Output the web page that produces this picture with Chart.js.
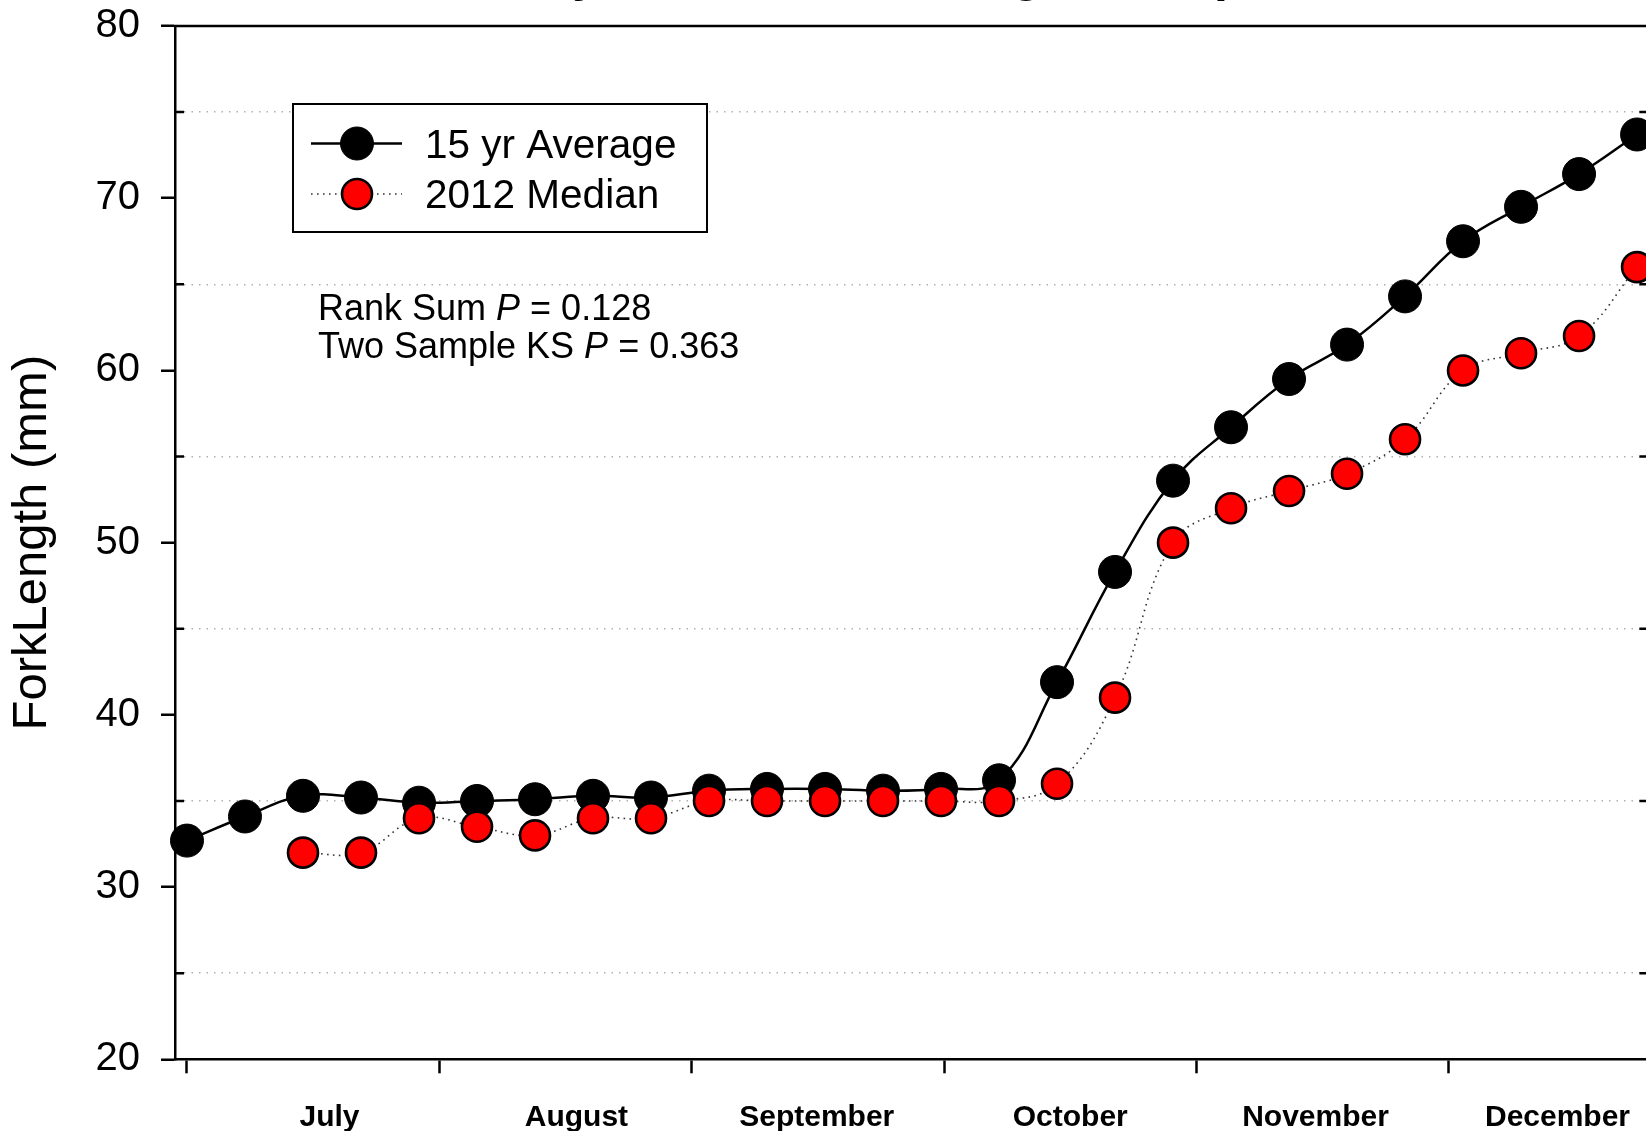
<!DOCTYPE html>
<html>
<head>
<meta charset="utf-8">
<script src="https://cdn.jsdelivr.net/npm/chart.js@4/dist/chart.umd.min.js"></script>
<style>
  html, body { margin: 0; padding: 0; background: #fff; overflow: hidden; width: 1646px; height: 1131px; }
  #wrap { position: absolute; left: 0; top: 0; width: 1666px; height: 1131px; }
  canvas { display: block; }
</style>
</head>
<body>
<div id="wrap"><canvas id="c" width="1666" height="1131"></canvas></div>
<script>
// ---- data ----
const chartTitle = 'Weekly Median Fork Length Comparison';
const yAxisTitle = 'ForkLength (mm)';
const seriesNames = ['15 yr Average', '2012 Median'];

// sampling days, counted from 1 July
const sampleDays = [0, 7, 14, 21, 28, 35, 42, 49, 56, 63, 70, 77, 84,
                    91, 98, 105, 112, 119, 126, 133, 140, 147, 154, 161, 168, 175];

const avg15yr = [32.7, 34.1, 35.3, 35.2, 34.9, 35.0, 35.1, 35.3, 35.2, 35.6, 35.7, 35.7, 35.6,
                 35.7, 36.2, 41.9, 48.3, 53.6, 56.7, 59.5, 61.5, 64.3, 67.5, 69.5, 71.4, 73.7];

const median2012 = [null, null, 32, 32, 34, 33.5, 33, 34, 34, 35, 35, 35, 35,
                    35, 35, 36, 41, 50, 52, 53, 54, 56, 60, 61, 62, 66];

const monthNames = ['July', 'August', 'September', 'October', 'November', 'December'];
const monthStartDays = [0, 30.5, 60.9, 91.4, 121.8, 152.3];
const monthLabelDays = [17.2, 47.0, 76.0, 106.6, 136.2, 165.4];

const statLines = [
  ['Rank Sum ', 'P', ' = 0.128'],
  ['Two Sample KS ', 'P', ' = 0.363']
];

// ---- drawing ----
const FONT = '"Liberation Sans", Arial, Helvetica, sans-serif';
Chart.defaults.font.family = FONT;
Chart.defaults.color = '#000';

const isMajor = v => Math.abs(v % 10) < 1e-9;

// scales keep to the space given by the layout padding
const noScalePadding = s => {
  s.paddingTop = 0; s.paddingBottom = 0; s.paddingLeft = 0; s.paddingRight = 0;
};

// frame, inward minor ticks, legend, statistics text and title
const decorations = {
  id: 'decorations',
  afterDraw(chart) {
    const { ctx, chartArea: a, scales } = chart;
    const ys = scales.y;
    ctx.save();

    // top and right frame lines
    ctx.strokeStyle = '#000';
    ctx.lineWidth = 2.5;
    ctx.beginPath();
    ctx.moveTo(a.left - 1, a.top);
    ctx.lineTo(a.right, a.top);
    ctx.lineTo(a.right, a.bottom);
    ctx.stroke();

    // minor ticks pointing into the plot, both sides
    ys.ticks.forEach(t => {
      const py = ys.getPixelForValue(t.value);
      ctx.beginPath();
      if (!isMajor(t.value)) {
        ctx.moveTo(a.left, py); ctx.lineTo(a.left + 9, py);
        ctx.moveTo(a.right - 9, py); ctx.lineTo(a.right, py);
      } else {
        ctx.moveTo(a.right, py); ctx.lineTo(a.right + 14, py);
      }
      ctx.stroke();
    });

    // legend
    const box = { l: 293, t: 104, r: 707, b: 232 };
    ctx.fillStyle = '#fff';
    ctx.fillRect(box.l, box.t, box.r - box.l, box.b - box.t);
    ctx.lineWidth = 2;
    ctx.strokeStyle = '#000';
    ctx.strokeRect(box.l, box.t, box.r - box.l, box.b - box.t);
    const rowY = [143.5, 194];
    chart.data.datasets.forEach((ds, i) => {
      const y = rowY[i];
      ctx.save();
      ctx.strokeStyle = ds.borderColor;
      ctx.lineWidth = ds.borderWidth;
      ctx.setLineDash(ds.borderDash || []);
      ctx.beginPath();
      ctx.moveTo(311, y); ctx.lineTo(402, y);
      ctx.stroke();
      ctx.restore();
      ctx.beginPath();
      ctx.arc(357, y, ds.pointRadius, 0, Math.PI * 2);
      ctx.fillStyle = ds.pointBackgroundColor;
      ctx.fill();
      ctx.lineWidth = ds.pointBorderWidth;
      ctx.strokeStyle = ds.pointBorderColor;
      ctx.stroke();
      ctx.fillStyle = '#000';
      ctx.font = '40.5px ' + FONT;
      ctx.textAlign = 'left';
      ctx.textBaseline = 'alphabetic';
      ctx.fillText(ds.label, 425, y + 14);
    });

    // statistics
    const statBase = [320, 358];
    statLines.forEach((parts, i) => {
      let x = 318;
      parts.forEach((p, j) => {
        ctx.font = (j === 1 ? 'italic ' : '') + '36px ' + FONT;
        ctx.fillStyle = '#000';
        ctx.textAlign = 'left';
        ctx.textBaseline = 'alphabetic';
        ctx.fillText(p, x, statBase[i]);
        x += ctx.measureText(p).width;
      });
    });

    // title
    ctx.font = 'bold 50px ' + FONT;
    ctx.textAlign = 'center';
    ctx.textBaseline = 'alphabetic';
    ctx.fillStyle = '#000';
    ctx.fillText(chartTitle, (a.left + a.right) / 2, -9);

    ctx.restore();
  }
};

const toPoints = vals => sampleDays.map((d, i) => ({ x: d, y: vals[i] }));

new Chart(document.getElementById('c').getContext('2d'), {
  type: 'line',
  data: {
    datasets: [
      {
        label: seriesNames[0],
        data: toPoints(avg15yr),
        borderColor: '#000',
        borderWidth: 2.5,
        tension: 0.4,
        pointRadius: 16.5,
        pointBackgroundColor: '#000',
        pointBorderColor: '#000',
        pointBorderWidth: 1,
        order: 2,
        clip: false
      },
      {
        label: seriesNames[1],
        data: toPoints(median2012),
        borderColor: '#333',
        borderWidth: 1.6,
        borderDash: [1.6, 4.4],
        tension: 0.4,
        pointRadius: 15,
        pointBackgroundColor: '#ff0000',
        pointBorderColor: '#000',
        pointBorderWidth: 2.6,
        order: 1,
        clip: false
      }
    ]
  },
  options: {
    responsive: false,
    animation: false,
    events: [],
    layout: { padding: { top: 26, left: 0, right: 10, bottom: 0 } },
    plugins: {
      legend: { display: false },
      tooltip: { enabled: false },
      title: { display: false }
    },
    scales: {
      x: {
        type: 'linear',
        position: 'bottom',
        min: -1.447,
        max: 176.37,
        afterBuildTicks: s => {
          s.ticks = [...monthStartDays, ...monthLabelDays]
            .sort((p, q) => p - q)
            .map(v => ({ value: v }));
        },
        afterFit: s => { s.height = 71.7; noScalePadding(s); },
        ticks: {
          autoSkip: false,
          maxRotation: 0,
          minRotation: 0,
          padding: 26.5,
          font: { size: 30, weight: 'bold' },
          callback: v => {
            const i = monthLabelDays.indexOf(v);
            return i >= 0 ? monthNames[i] : '';
          }
        },
        grid: {
          drawOnChartArea: false,
          drawTicks: true,
          tickLength: 14,
          tickWidth: 2.5,
          tickColor: c => (c.tick && monthStartDays.includes(c.tick.value)) ? '#000' : 'rgba(0,0,0,0)'
        },
        border: { display: true, color: '#000', width: 2.5 }
      },
      y: {
        min: 20,
        max: 80,
        afterFit: s => { s.width = 175; noScalePadding(s); },
        ticks: {
          stepSize: 5,
          padding: 21,
          font: { size: 40 },
          callback: v => isMajor(v) ? String(v) : ''
        },
        grid: {
          drawOnChartArea: true,
          lineWidth: 1.5,
          color: c => (c.tick && !isMajor(c.tick.value)) ? '#b0b0b0' : 'rgba(0,0,0,0)',
          borderDash: [1.5, 6],
          tickLength: 14,
          tickWidth: 2.5,
          tickColor: c => (c.tick && isMajor(c.tick.value)) ? '#000' : 'rgba(0,0,0,0)'
        },
        border: { display: true, color: '#000', width: 2.5, dash: [1.5, 6] },
        title: {
          display: true,
          text: yAxisTitle,
          font: { size: 49 },
          padding: { top: 3, bottom: 0 }
        }
      }
    }
  },
  plugins: [decorations]
});
</script>
</body>
</html>
